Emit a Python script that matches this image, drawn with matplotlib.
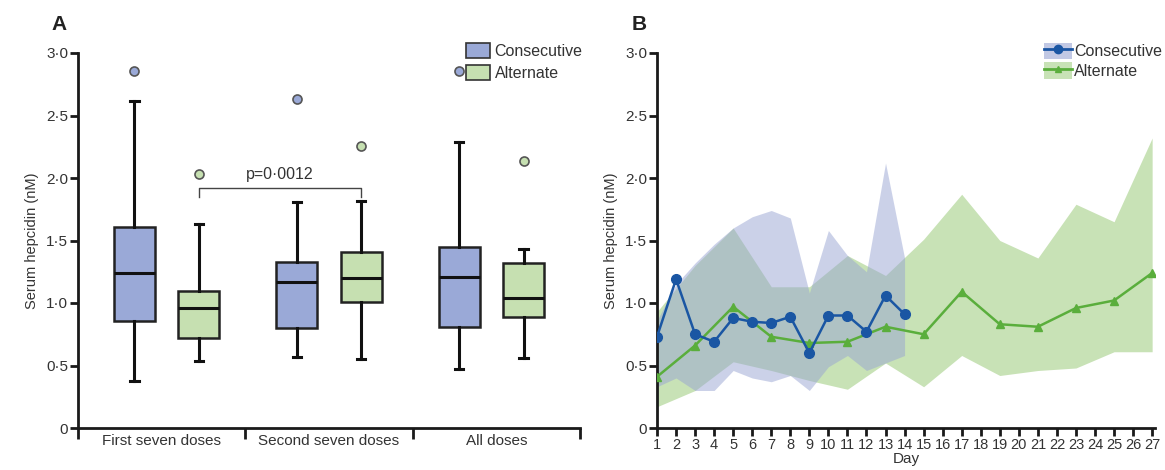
import numpy as np
import matplotlib
matplotlib.use('Agg')
import matplotlib.pyplot as plt
from matplotlib.patches import Patch
from matplotlib.lines import Line2D

plt.rcParams['font.family'] = ['Liberation Sans', 'DejaVu Sans']

# Panel A: box plot summaries (whisker low, Q1, median, Q3, whisker high, outlier)
groups = ['First seven doses', 'Second seven doses', 'All doses']
cons_stats = [
    [0.38, 0.86, 1.24, 1.61, 2.62, 2.86],
    [0.57, 0.80, 1.17, 1.33, 1.81, 2.63],
    [0.47, 0.81, 1.21, 1.45, 2.29, 2.86],
]
alt_stats = [
    [0.54, 0.72, 0.96, 1.10, 1.63, 2.03],
    [0.55, 1.01, 1.20, 1.41, 1.82, 2.26],
    [0.56, 0.89, 1.04, 1.32, 1.43, 2.14],
]
p_text = 'p=0·0012'

# Panel B: daily medians with ranges
cons_days = list(range(1, 15))
cons_med = [0.73, 1.19, 0.75, 0.69, 0.88, 0.85, 0.84, 0.89, 0.60, 0.90, 0.90, 0.77, 1.06, 0.91]
cons_lo = [0.33, 0.40, 0.30, 0.30, 0.46, 0.40, 0.37, 0.42, 0.30, 0.49, 0.58, 0.46, 0.52, 0.58]
cons_hi = [0.86, 1.15, 1.32, 1.47, 1.60, 1.69, 1.74, 1.68, 1.08, 1.58, 1.38, 1.25, 2.12, 1.36]

alt_days = [1, 3, 5, 7, 9, 11, 13, 15, 17, 19, 21, 23, 25, 27]
alt_med = [0.41, 0.66, 0.97, 0.73, 0.68, 0.69, 0.81, 0.75, 1.09, 0.83, 0.81, 0.96, 1.02, 1.24]
alt_lo = [0.17, 0.30, 0.53, 0.46, 0.38, 0.31, 0.52, 0.33, 0.58, 0.42, 0.46, 0.48, 0.61, 0.61]
alt_hi = [0.93, 1.30, 1.60, 1.13, 1.13, 1.38, 1.22, 1.51, 1.87, 1.50, 1.36, 1.79, 1.65, 2.32]

yticks = [0, 0.5, 1.0, 1.5, 2.0, 2.5, 3.0]
ytick_labels = ['0', '0·5', '1·0', '1·5', '2·0', '2·5', '3·0']

c_box_cons = '#9aa9d7'
c_box_alt = '#c6e0b1'
c_line_cons = '#1a56a3'
c_line_alt = '#5aae3c'
c_fill_cons = '#98a4d3'
c_fill_alt = '#c8e2b6'
text_c = '#333333'
fs = 10.5

fig = plt.figure(figsize=(11.65, 4.7), dpi=100)
axA = fig.add_axes([78 / 1165, 1 - 428 / 470, (580 - 78) / 1165, 375 / 470])
axB = fig.add_axes([657 / 1165, 1 - 428 / 470, (1155 - 657) / 1165, 375 / 470])


def style_axis(ax):
    for s in ['top', 'right']:
        ax.spines[s].set_visible(False)
    for s in ['left', 'bottom']:
        ax.spines[s].set_linewidth(2)
        ax.spines[s].set_color('#1a1a1a')
    ax.set_ylim(0, 3.0)
    ax.set_yticks(yticks)
    ax.set_yticklabels(ytick_labels)
    ax.tick_params(axis='y', length=6, width=2, colors='#1a1a1a', labelsize=fs + 0.5,
                   labelcolor=text_c, pad=1)
    ax.set_ylabel('Serum hepcidin (nM)', fontsize=fs, color=text_c, labelpad=5)


# ---- Panel A ----
centers = np.arange(3) * 0.97 + 0.53
off = 0.193
width = 0.245


def make_stats(vals):
    lo, q1, med, q3, hi, out = vals
    return dict(whislo=lo, q1=q1, med=med, q3=q3, whishi=hi, fliers=[out])


for stats, pos, col in [(cons_stats, centers - off, c_box_cons),
                        (alt_stats, centers + off, c_box_alt)]:
    axA.bxp([make_stats(v) for v in stats], positions=pos, widths=width,
            capwidths=0.05, patch_artist=True, manage_ticks=False,
            boxprops=dict(facecolor=col, edgecolor='#222222', linewidth=1.8),
            medianprops=dict(color='#111111', linewidth=2.2),
            whiskerprops=dict(color='#111111', linewidth=2.2),
            capprops=dict(color='#111111', linewidth=2.2),
            flierprops=dict(marker='o', markerfacecolor=col, markeredgecolor='#555555',
                            markersize=6.5, markeredgewidth=1.2))

style_axis(axA)
axA.set_xlim(0, 3.0)
axA.set_xticks([0, 1, 2, 3])
axA.set_xticklabels([])
axA.set_xticks(np.arange(3) + 0.5, minor=True)
axA.set_xticklabels(groups, minor=True)
axA.tick_params(axis='x', which='major', length=8, width=2, colors='#1a1a1a')
axA.tick_params(axis='x', which='minor', length=0, labelsize=fs + 0.5, labelcolor=text_c, pad=4)

# significance bracket
x1, x2 = centers[0] + off, centers[1] + off
axA.plot([x1, x1, x2, x2], [1.85, 1.92, 1.92, 1.85], color='#444444', lw=1.0)
axA.text((x1 + x2) / 2, 1.97, p_text, ha='center', va='bottom', fontsize=fs + 1, color=text_c)

legA = axA.legend(handles=[Patch(facecolor=c_box_cons, edgecolor='#333333', lw=1.2, label='Consecutive'),
                           Patch(facecolor=c_box_alt, edgecolor='#333333', lw=1.2, label='Alternate')],
                  loc='upper left', bbox_to_anchor=(0.76, 1.045), frameon=False, fontsize=fs + 1,
                  handlelength=1.5, handleheight=1.1, handletextpad=0.3, labelspacing=0.4,
                  borderaxespad=0)
for t in legA.get_texts():
    t.set_color(text_c)

fig.text(51 / 1165, 1 - 25 / 470, 'A', fontsize=15, fontweight='bold', color='#222222',
         ha='left', va='center')

# ---- Panel B ----
axB.fill_between(alt_days, alt_lo, alt_hi, color=c_fill_alt, lw=0, zorder=1)
axB.fill_between(cons_days, cons_lo, cons_hi, color=c_fill_cons, alpha=0.5, lw=0, zorder=2)
axB.plot(alt_days, alt_med, color=c_line_alt, lw=1.8, marker='^', markersize=6, zorder=3)
axB.plot(cons_days, cons_med, color=c_line_cons, lw=1.8, marker='o', markersize=7, zorder=4)

style_axis(axB)
axB.set_xlim(1, 27.15)
axB.set_xticks(range(1, 28))
axB.set_xticklabels([str(d) for d in range(1, 28)])
axB.tick_params(axis='x', length=6, width=2, colors='#1a1a1a', labelsize=fs,
                labelcolor=text_c, pad=1)
axB.set_xlabel('Day', fontsize=fs + 0.5, color=text_c, labelpad=0)

hB1 = (Patch(facecolor=c_fill_cons, alpha=0.6, lw=0),
       Line2D([], [], color=c_line_cons, lw=2, marker='o', markersize=6))
hB2 = (Patch(facecolor=c_fill_alt, lw=0),
       Line2D([], [], color=c_line_alt, lw=2, marker='^', markersize=5))
legB = axB.legend([hB1, hB2], ['Consecutive', 'Alternate'], loc='upper left',
                  bbox_to_anchor=(0.765, 1.045), frameon=False, fontsize=fs + 1,
                  handlelength=1.7, handleheight=1.2, handletextpad=0.15, labelspacing=0.2,
                  borderaxespad=0)
for t in legB.get_texts():
    t.set_color(text_c)

fig.text(632 / 1165, 1 - 25 / 470, 'B', fontsize=15, fontweight='bold', color='#222222',
         ha='left', va='center')

fig.savefig('out.png', dpi=100)
